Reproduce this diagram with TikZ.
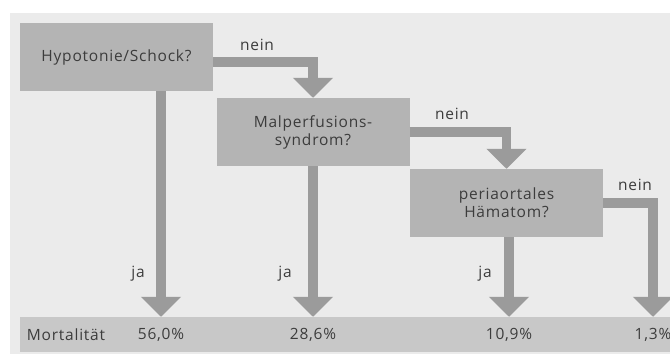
\documentclass[tikz,border=0pt]{standalone}
\usepackage{fontspec}
\setmainfont{Open Sans}[LetterSpace=5]
\usepackage{xcolor}
\definecolor{bggray}{RGB}{235,235,235}
\definecolor{boxgray}{RGB}{180,180,180}
\definecolor{bargray}{RGB}{200,200,200}
\definecolor{arrowgray}{RGB}{155,155,155}
\definecolor{txtgray}{RGB}{60,60,60}
\usetikzlibrary{positioning,arrows.meta}

\begin{document}
\begin{tikzpicture}[
      x=1pt,y=-1pt,
      lbl/.style={font=\fontsize{15.5}{18}\selectfont,text=txtgray,inner sep=0pt},
      qbox/.style={fill=boxgray,minimum width=193pt,minimum height=68pt,
        font=\fontsize{15.5}{18}\selectfont,text=txtgray,align=center,inner sep=0pt},
      fat/.style={draw=arrowgray,line width=9.5pt,line join=miter,
        -{Triangle[width=39pt,length=20pt]}}
    ]
    \useasboundingbox (0,0) rectangle (670,354);
    \clip (0,0) rectangle (670,354);
    \fill[bggray] (10,13) rectangle (670,354);
    \node[qbox] (hypo) at (116.5,57) {Hypotonie/Schock?};
    \node[qbox] (malperf) at (313,132) {Malperfusions-\\syndrom?};
    \node[qbox] (haem) at (506.5,203) {periaortales\\Hämatom?};
    \node[fill=bargray,minimum width=660pt,minimum height=35pt,inner sep=0pt]
    (mort) at (350,334.5) {};
    \node[lbl] (mlbl) at (66,335) {Mortalität};
    \node[lbl] (v1) at (161,335) {56,0\%};
    \node[lbl] (v2) at (313,335) {28,6\%};
    \node[lbl] (v3) at (509,335) {10,9\%};
    \node[lbl] (v4) at (653,335) {1,3\%};
    \draw[fat] ([yshift=-5pt]hypo.east) -| (malperf.north);
    \draw[fat] (malperf.east) -| (haem.north);
    \draw[fat] (haem.east) -| (v4 |- mort.north);
    \draw[fat] (hypo.south -| v1) -- (v1 |- mort.north);
    \draw[fat] (malperf.south -| v2) -- (v2 |- mort.north);
    \draw[fat] (haem.south -| v3) -- (v3 |- mort.north);
    \node[lbl] (n1) at (257,45) {nein};
    \node[lbl] (n2) at (452,114) {nein};
    \node[lbl] (n3) at (635,185) {nein};
    \node[lbl] (j1) at (138,274) {ja};
    \node[lbl] (j2) at (285,274) {ja};
    \node[lbl] (j3) at (485,274) {ja};
  \end{tikzpicture}
\end{document}
